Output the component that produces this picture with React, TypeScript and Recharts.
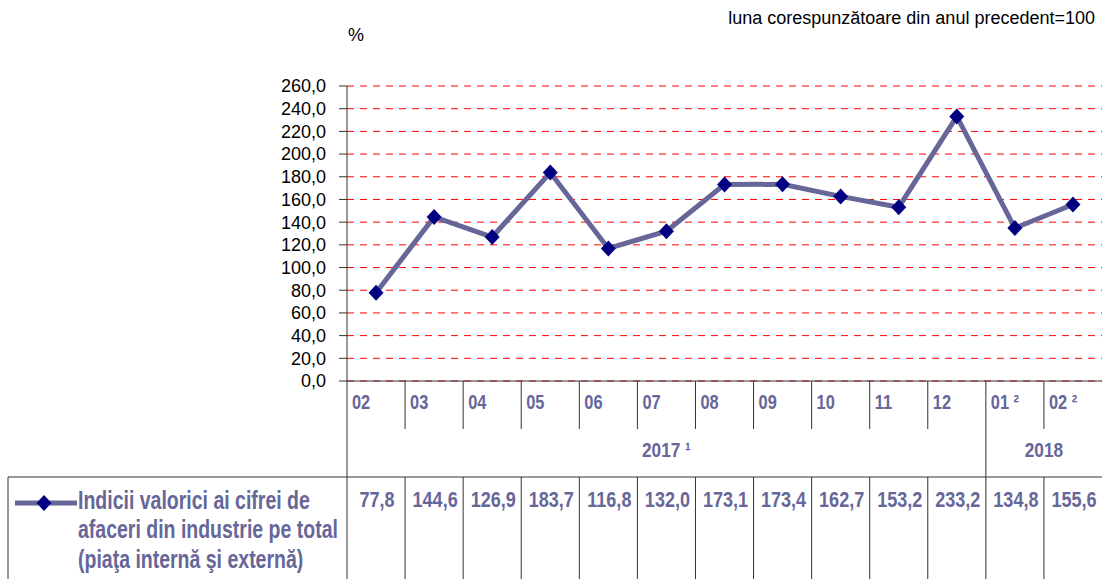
import { LineChart, Line, XAxis, YAxis, CartesianGrid } from 'recharts';

const months = ['02', '03', '04', '05', '06', '07', '08', '09', '10', '11', '12', '01 ²', '02 ²'];
const values = [77.8, 144.6, 126.9, 183.7, 116.8, 132.0, 173.1, 173.4, 162.7, 153.2, 233.2, 134.8, 155.6];
const years = [
  { label: '2017 ¹', start: 0, span: 11 },
  { label: '2018', start: 11, span: 2 },
];
const yTicks = [0, 20, 40, 60, 80, 100, 120, 140, 160, 180, 200, 220, 240, 260];
const seriesName = [
  'Indicii valorici ai cifrei de',
  'afaceri din industrie pe total',
  '(piaţa internă şi externă)',
];
const unitLabel = '%';
const baseNote = 'luna corespunzătoare din anul precedent=100';

const data = months.map((month, i) => ({ month, value: values[i] }));

const W = 1102;
const H = 579;
const PLOT_LEFT = 347;
const TABLE_TOP = 477;
const LINE_COLOR = '#666699';
const MARKER_COLOR = '#000080';
const REGULAR = '"Liberation Sans", Arial, sans-serif';

const fmt = (v: number) => v.toFixed(1).replace('.', ',');

// no Arial Narrow here, so squeeze bold Liberation Sans horizontally
function CondText({
  x,
  y,
  size,
  squeeze = 0.82,
  anchor = 'start',
  children,
}: {
  x: number;
  y: number;
  size: number;
  squeeze?: number;
  anchor?: 'start' | 'middle' | 'end';
  children: any;
}) {
  return (
    <text
      transform={`translate(${x},${y}) scale(${squeeze},1)`}
      textAnchor={anchor}
      fill={LINE_COLOR}
      fontFamily={REGULAR}
      fontWeight="bold"
      fontSize={size}
    >
      {children}
    </text>
  );
}

function Diamond({ cx, cy }: { cx?: number; cy?: number }) {
  if (cx == null || cy == null) return null;
  return (
    <path
      d={`M${cx},${cy - 8} L${cx + 7.5},${cy} L${cx},${cy + 8} L${cx - 7.5},${cy} Z`}
      fill={MARKER_COLOR}
    />
  );
}

function TableTick(props: any) {
  const { x, y, payload } = props;
  const index: number = payload.index ?? props.index;
  const half: number = payload.offset || (W - PLOT_LEFT) / months.length / 2;
  const left = x - half;
  const group = years.find((g) => g.start === index);
  return (
    <g>
      <CondText x={left + 5} y={y + 28} size={20}>
        {payload.value}
      </CondText>
      {group ? (
        <>
          <line x1={left} x2={left} y1={y} y2={H} stroke="#333" strokeWidth={1} />
          <CondText x={left + group.span * half} y={y + 76} size={21} anchor="middle">
            {group.label}
          </CondText>
        </>
      ) : (
        <>
          <line x1={left} x2={left} y1={y} y2={y + 48} stroke="#333" strokeWidth={1} />
          <line x1={left} x2={left} y1={TABLE_TOP} y2={H} stroke="#333" strokeWidth={1} />
        </>
      )}
      <CondText x={x + 1} y={507} size={22} anchor="middle">
        {fmt(values[index])}
      </CondText>
    </g>
  );
}

export default function App() {
  return (
    <div
      style={{
        position: 'absolute',
        left: 0,
        top: 0,
        width: W,
        height: H,
        background: '#fff',
        fontFamily: REGULAR,
        overflow: 'hidden',
      }}
    >
      <LineChart
        width={W}
        height={H}
        data={data}
        margin={{ top: 86, right: 0, bottom: 168, left: 287 }}
      >
        <CartesianGrid vertical={false} stroke="#FF0000" strokeDasharray="7 6" />
        <XAxis
          dataKey="month"
          scale="band"
          height={30}
          axisLine={{ stroke: '#333' }}
          tickLine={false}
          tickSize={0}
          tickMargin={0}
          interval={0}
          tick={<TableTick />}
        />
        <YAxis
          width={60}
          domain={[0, 260]}
          ticks={yTicks}
          interval={0}
          tickFormatter={fmt}
          axisLine={{ stroke: '#333' }}
          tickLine={{ stroke: '#333' }}
          tickSize={8}
          tickMargin={13}
          tick={{ fill: '#000', fontSize: 18, fontFamily: REGULAR }}
        />
        <Line
          type="linear"
          dataKey="value"
          stroke={LINE_COLOR}
          strokeWidth={5}
          dot={<Diamond />}
          activeDot={false}
          isAnimationActive={false}
        />
      </LineChart>
      <svg
        width={W}
        height={H}
        style={{ position: 'absolute', left: 0, top: 0, pointerEvents: 'none' }}
      >
        <text x={348} y={41} fontSize={18} fontFamily={REGULAR} fill="#000">
          {unitLabel}
        </text>
        <text x={1095} y={24} textAnchor="end" fontSize={18} fontFamily={REGULAR} fill="#000">
          {baseNote}
        </text>
        <line x1={8} x2={W} y1={TABLE_TOP} y2={TABLE_TOP} stroke="#333" strokeWidth={1} />
        <line x1={8} x2={8} y1={TABLE_TOP} y2={H} stroke="#333" strokeWidth={1} />
        <line x1={15} x2={77} y1={503} y2={503} stroke={LINE_COLOR} strokeWidth={5} />
        <Diamond cx={44} cy={503} />
        {seriesName.map((s, i) => (
          <CondText key={s} x={78} y={[509, 538, 568][i]} size={25} squeeze={0.78}>
            {s}
          </CondText>
        ))}
      </svg>
    </div>
  );
}
